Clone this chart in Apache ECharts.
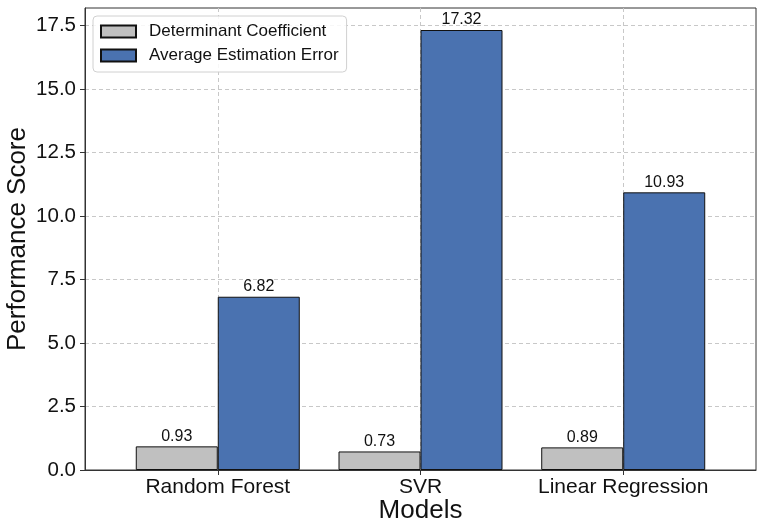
<!DOCTYPE html>
<html>
<head>
<meta charset="utf-8">
<script src="https://cdn.jsdelivr.net/npm/echarts@6/dist/echarts.min.js"></script>
<style>
  html, body { margin: 0; padding: 0; background: #fff; }
  #chart { width: 768px; height: 531px; }
</style>
</head>
<body>
<div id="chart"></div>
<script>
var models = ['Random Forest', 'SVR', 'Linear Regression'];
var detCoef = [0.93, 0.73, 0.89];
var avgErr = [6.82, 17.32, 10.93];
var yTicks = [0, 2.5, 5, 7.5, 10, 12.5, 15, 17.5];
var xTicks = [0, 1, 2];

var font = 'Liberation Sans, Arial, sans-serif';
var chart = echarts.init(document.getElementById('chart'));

function pairs(vals) {
  return vals.map(function (v, i) { return [i, v]; });
}

var barLabel = {
  show: true,
  position: 'top',
  distance: 2,
  fontFamily: font,
  fontSize: 16,
  color: '#111',
  formatter: function (p) { return p.value[1].toFixed(2); }
};

var gridLine = { show: true, lineStyle: { color: '#c8c8c8', type: [4, 3], width: 1 } };

option = {
  animation: false,
  textStyle: { fontFamily: font },
  grid: {
    left: 85, right: 12, top: 8, bottom: 61,
    containLabel: false,
    outerBoundsMode: 'none',
    show: true, borderColor: '#333', borderWidth: 1
  },
  legend: {
    orient: 'vertical',
    left: 93, top: 16,
    icon: 'rect',
    itemWidth: 35, itemHeight: 12, itemGap: 7,
    padding: [7, 8, 8, 7],
    backgroundColor: 'rgba(255,255,255,0.85)',
    borderColor: '#d0d0d0', borderWidth: 1, borderRadius: 4,
    textStyle: { fontFamily: font, fontSize: 17, color: '#111', padding: [0, 0, 0, 8] },
    data: ['Determinant Coefficient', 'Average Estimation Error']
  },
  xAxis: {
    type: 'value',
    min: -0.655, max: 2.655,
    name: 'Models',
    nameLocation: 'middle',
    nameMoveOverlap: false,
    nameGap: 28,
    nameTextStyle: { fontFamily: font, fontSize: 26, color: '#111' },
    axisLine: { show: true, onZero: false, lineStyle: { color: '#333' } },
    axisTick: { show: true, length: 5, customValues: xTicks, lineStyle: { color: '#333' } },
    axisLabel: {
      customValues: xTicks,
      margin: 7,
      fontFamily: font, fontSize: 21, color: '#111',
      formatter: function (v) { return models[Math.round(v)]; }
    },
    splitLine: gridLine
  },
  yAxis: {
    type: 'value',
    min: 0, max: 18.186,
    name: 'Performance Score',
    nameLocation: 'middle',
    nameMoveOverlap: false,
    nameGap: 54,
    nameTextStyle: { fontFamily: font, fontSize: 26, color: '#111' },
    axisLine: { show: true, onZero: false, lineStyle: { color: '#333' } },
    axisTick: { show: true, length: 5, customValues: yTicks, lineStyle: { color: '#333' } },
    axisLabel: {
      customValues: yTicks,
      margin: 9,
      fontFamily: font, fontSize: 20.5, color: '#111',
      formatter: function (v) { return v.toFixed(1); }
    },
    splitLine: gridLine
  },
  series: [{
    type: 'bar',
    name: 'Determinant Coefficient',
    barWidth: 82,
    barGap: '0%',
    itemStyle: { color: '#c0c0c0', borderColor: '#111', borderWidth: 1 },
    label: barLabel,
    data: pairs(detCoef)
  }, {
    type: 'bar',
    name: 'Average Estimation Error',
    barWidth: 82,
    barGap: '0%',
    itemStyle: { color: '#4a72b0', borderColor: '#111', borderWidth: 1 },
    label: barLabel,
    data: pairs(avgErr)
  }]
};
chart.setOption(option);
</script>
</body>
</html>
